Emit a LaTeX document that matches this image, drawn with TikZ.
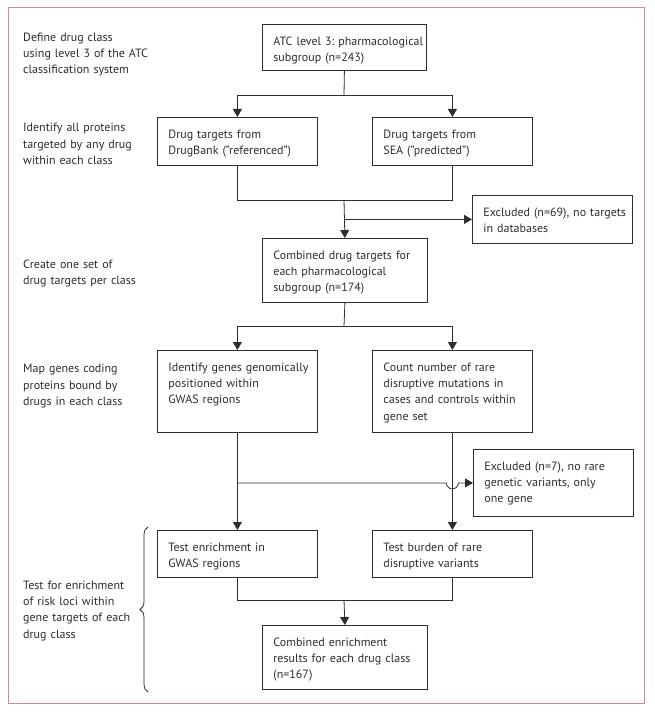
\documentclass[tikz,border=0pt]{standalone}
\usepackage{fontspec}
\setmainfont{PT Sans}
\usetikzlibrary{arrows.meta,decorations.pathreplacing}
\definecolor{frame}{RGB}{218,130,160}
\definecolor{ink}{RGB}{45,45,45}
\begin{document}
\begin{tikzpicture}[x=1pt,y=-1pt,
  font=\fontsize{12}{16.2}\selectfont\frenchspacing,
  bx/.style={draw=ink, line width=0.8pt, inner xsep=0pt, inner ysep=12pt,
     text height=9pt, align=left, anchor=north west, text=ink,
     execute at begin node={\leftskip=11pt\hyphenpenalty=10000}},
  lbl/.style={anchor=north west, inner sep=0pt, text height=9pt, text width=150pt,
     align=left, text=ink},
  ln/.style={draw=ink, line width=0.8pt},
  arr/.style={ln, -{Triangle[width=9pt,length=8pt]}},
]
\useasboundingbox (0,0) rectangle (654,714);
\draw[frame, line width=1pt] (8,8) rectangle (644,703);

% left labels
\node[lbl] (l1) at (23,32) {Define drug class\\using level 3 of the ATC\\classification system};
\node[lbl] (l2) at (23,122.7) {Identify all proteins\\targeted by any drug\\within each class};
\node[lbl] (l3) at (23,259) {Create one set of\\drug targets per class};
\node[lbl] (l4) at (23,363.7) {Map genes coding\\proteins bound by\\drugs in each class};
\node[lbl] (l5) at (23,580.3) {Test for enrichment\\of risk loci within\\gene targets of each\\drug class};

% boxes
\node[bx, text width=164pt, text depth=13pt] (atc) at (262,24) {ATC level 3: pharmacological\\subgroup (n=243)};
\node[bx, text width=160pt, text depth=15pt] (db) at (157,117) {Drug targets from\\DrugBank (”referenced”)};
\node[bx, text width=160pt, text depth=15pt] (sea) at (372,117) {Drug targets from\\SEA (”predicted”)};
\node[bx, text width=160pt, text depth=15pt] (ex1) at (472,195) {Excluded (n=69), no targets\\in databases};
\node[bx, text width=165pt, text depth=31pt] (comb) at (262,238) {Combined drug targets for\\each pharmacological\\subgroup (n=174)};
\node[bx, text width=160pt, text depth=49pt] (gw) at (157,350) {Identify genes genomically\\positioned within\\GWAS regions};
\node[bx, text width=160pt, text depth=49pt] (rare) at (372,350) {Count number of rare\\disruptive mutations in\\cases and controls within\\gene set};
\node[bx, text width=160pt, text depth=34pt] (ex2) at (473,449) {Excluded (n=7), no rare\\genetic variants, only\\one gene};
\node[bx, text width=160pt, text depth=14pt] (te) at (157,530) {Test enrichment in\\GWAS regions};
\node[bx, text width=160pt, text depth=14pt] (tb) at (372,530) {Test burden of rare\\disruptive variants};
\node[bx, text width=165pt, text depth=31pt] (fin) at (262,625) {Combined enrichment\\results for each drug class\\(n=167)};

% connectors
\coordinate (s1) at (344,95);
\coordinate (j1) at (344,200);
\coordinate (s2) at (344,326);
\coordinate (j3) at (344,600);

\draw[ln] (atc.south) -- (s1);
\draw[arr] (s1) -| (db.north);
\draw[arr] (s1) -| (sea.north);
\draw[ln] (db.south) -- (db.south |- j1) -- (sea.south |- j1) -- (sea.south);
\draw[arr] (j1) -- (comb.north);
\draw[arr] (j1 |- ex1.west) -- (ex1.west);

\draw[ln] (comb.south) -- (s2);
\draw[arr] (s2) -| (gw.north);
\draw[arr] (s2) -| (rare.north);
\draw[arr] (gw.south) -- (te.north);
\draw[arr] (rare.south) -- (tb.north);
\draw[arr] (gw.south |- ex2.west) -- ([xshift=-6pt]rare.south |- ex2.west) arc (180:0:6) -- (ex2.west);

\draw[ln] (te.south) -- (te.south |- j3) -- (tb.south |- j3) -- (tb.south);
\draw[arr] (j3) -- (fin.north);

% brace
\draw[ln, decorate, decoration={brace, amplitude=8pt}] (148,692) -- (148,527);
\end{tikzpicture}
\end{document}
